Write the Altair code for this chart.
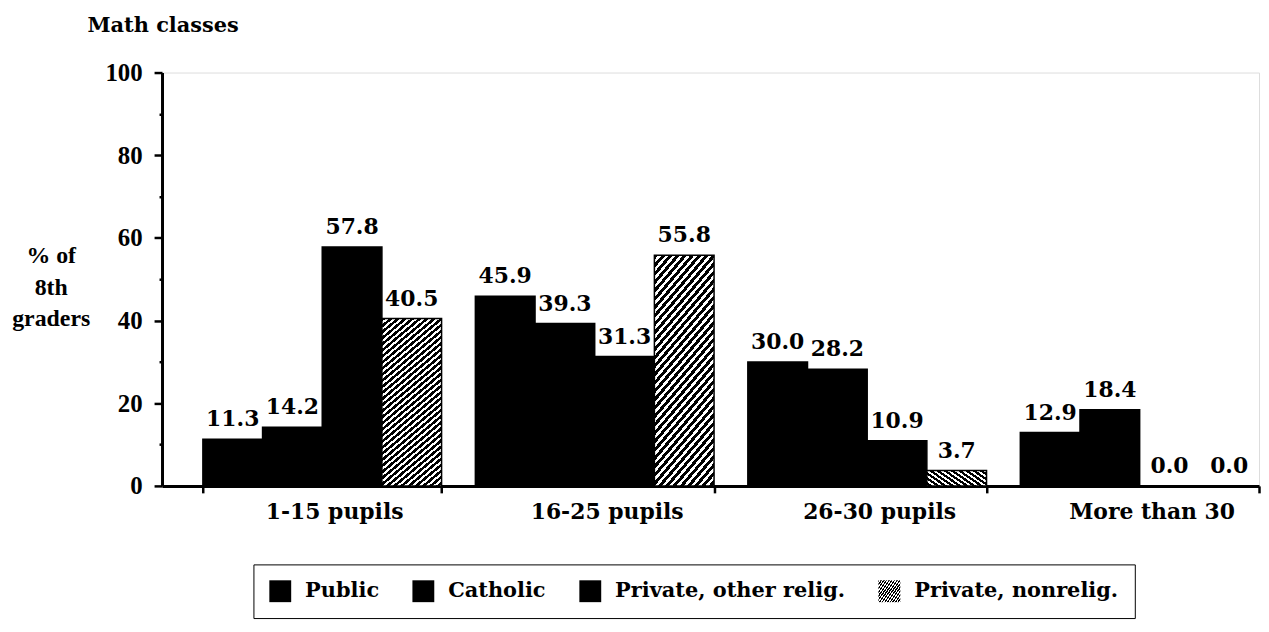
import json
import altair as alt
import pandas as pd

# ---- data ----
groups = ["1-15 pupils", "16-25 pupils", "26-30 pupils", "More than 30"]
series = ["Public", "Catholic", "Private, other relig.", "Private, nonrelig."]
public = [11.3, 45.9, 30.0, 12.9]
catholic = [14.2, 39.3, 28.2, 18.4]
private_other = [57.8, 31.3, 10.9, 0.0]
private_nonrelig = [40.5, 55.8, 3.7, 0.0]

values = {
    "Public": public,
    "Catholic": catholic,
    "Private, other relig.": private_other,
    "Private, nonrelig.": private_nonrelig,
}
rows = []
for s in series:
    for g, v in zip(groups, values[s]):
        rows.append({"group": g, "series": s, "pct": v})
df = pd.DataFrame(rows)

# ---- hatch pattern made of a striped linear gradient ----
N = 36
stops = []
for i in range(N):
    a = i / N
    b = (i + 0.55) / N
    c = (i + 1) / N
    stops += [
        {"offset": a, "color": "black"},
        {"offset": b, "color": "black"},
        {"offset": b, "color": "white"},
        {"offset": c, "color": "white"},
    ]
hatch = {"gradient": "linear", "x1": 0, "y1": 0, "x2": 0.36, "y2": 1.2, "stops": stops}
hatch_expr = json.dumps(hatch)

FONT = "Liberation Serif"
WFONT = "DejaVu Serif"

x_enc = alt.X(
    "group:N",
    sort=groups,
    title=None,
    scale=alt.Scale(paddingInner=0.124, paddingOuter=0.075, align=1),
    axis=alt.Axis(
        labelFont=WFONT, labelFontSize=22, labelFontWeight="bold", labelColor="black",
        labelAngle=0, labelPadding=9, labelOffset=12, tickSize=7, tickWidth=2.5,
        tickColor="black", tickBand="extent", domainWidth=3, domainColor="black",
        labelLimit=400,
    ),
)
xo_enc = alt.XOffset("series:N", sort=series, scale=alt.Scale(paddingInner=0, paddingOuter=0))
y_enc = alt.Y(
    "pct:Q",
    scale=alt.Scale(domain=[0, 100], nice=False),
    title=["% of", "8th", "graders"],
    axis=alt.Axis(
        values=[0, 10, 20, 30, 40, 50, 60, 70, 80, 90, 100],
        labelExpr="datum.value % 20 === 0 ? datum.label : ''",
        tickSize={"condition": {"test": "datum.value % 20 === 0", "value": 8}, "value": 3},
        tickWidth=2.5, tickColor="black", domainWidth=3, domainColor="black",
        labelFont=FONT, labelFontSize=25, labelFontWeight="bold", labelColor="black",
        labelPadding=12, grid=False,
        titleFont=FONT, titleFontSize=24, titleFontWeight="bold", titleColor="black",
        titleAngle=0, titleAlign="center", titleBaseline="alphabetic",
        titleX=-112, titleY=191, titleLineHeight=32,
    ),
)

bars = alt.Chart(df).mark_bar(stroke="black", strokeWidth=1.5).encode(
    x=x_enc,
    xOffset=xo_enc,
    y=y_enc,
    fill=alt.Fill(
        "series:N",
        sort=series,
        scale=alt.Scale(domain=series, range=["black", "black", "black", alt.ExprRef(hatch_expr)]),
        legend=alt.Legend(
            orient="none", legendX=92, legendY=495, direction="horizontal", columns=4,
            title=None, symbolType="square", symbolSize=484, symbolStrokeWidth=0,
            labelFont=WFONT, labelFontSize=21, labelFontWeight="bold", labelColor="black",
            labelOffset=14, columnPadding=33, padding=16, labelLimit=400,
            strokeColor="black",
        ),
    ),
)

labels = alt.Chart(df).mark_text(
    font=WFONT, fontSize=22, fontWeight="bold", color="black",
    baseline="alphabetic", dy=-13,
).encode(
    x=alt.X("group:N", sort=groups),
    xOffset=alt.XOffset("series:N", sort=series),
    y="pct:Q",
    text=alt.Text("pct:Q", format=".1f"),
)

chart = (
    alt.layer(bars, labels)
    .properties(
        width=1104,
        height=416,
        autosize=alt.AutoSizeParams(type="none"),
        padding={"left": 155, "top": 63, "right": 2, "bottom": 133},
        title=alt.TitleParams(
            "Math classes", anchor="start", frame="group", dx=-75, offset=8,
            font=WFONT, fontSize=21, fontWeight="bold", color="black", baseline="alphabetic",
        ),
    )
    .configure_view(stroke=None)
    .configure_legend(strokeWidth=2.5)
    .configure(background="white")
)

chart.save("out.html", embed_options={"renderer": "svg", "actions": False})
